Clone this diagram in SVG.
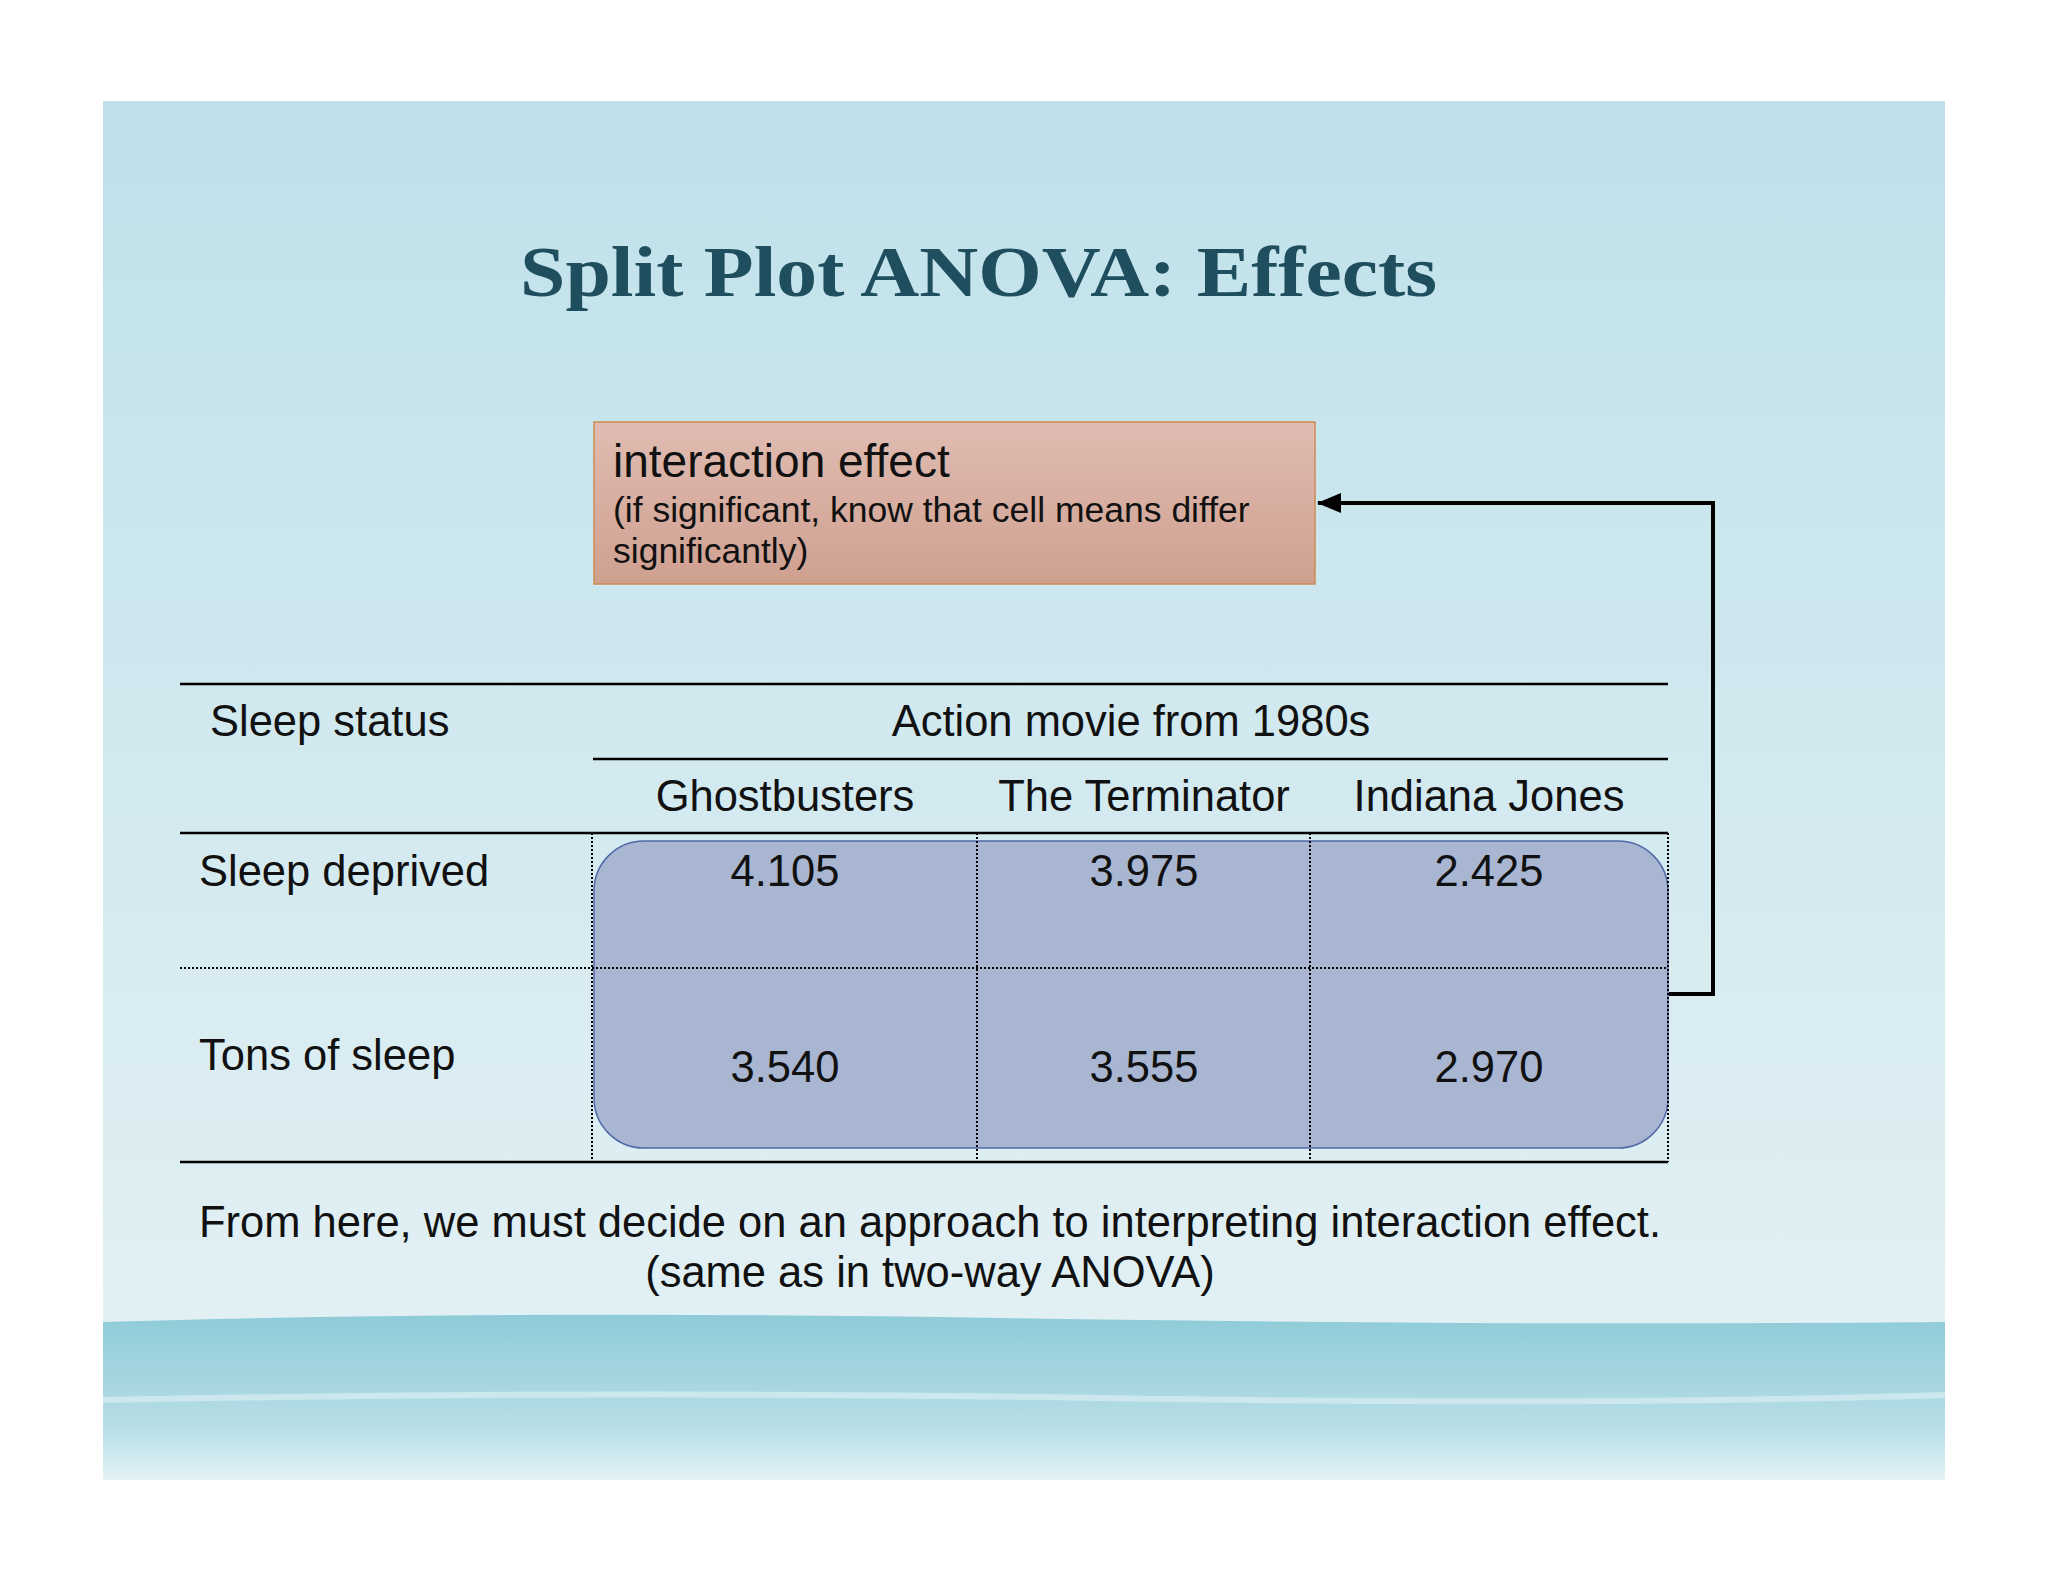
<svg xmlns="http://www.w3.org/2000/svg" width="2048" height="1582" viewBox="0 0 2048 1582">
<defs>
<linearGradient id="bg" x1="0" y1="0" x2="0" y2="1"><stop offset="0" stop-color="#bfe1ea"/><stop offset="1" stop-color="#e6f2f5"/></linearGradient>
<linearGradient id="water" x1="0" y1="0" x2="0" y2="1"><stop offset="0" stop-color="#8ecbd8"/><stop offset="0.4" stop-color="#a6d6e0"/><stop offset="0.7" stop-color="#b9dfe7"/><stop offset="1" stop-color="#e4f2f5"/></linearGradient>
<linearGradient id="box" x1="0" y1="0" x2="0" y2="1"><stop offset="0" stop-color="#e0bcb2"/><stop offset="1" stop-color="#cfa090"/></linearGradient>
<marker id="ah" markerWidth="24" markerHeight="24" refX="23" refY="12" orient="auto" markerUnits="userSpaceOnUse" viewBox="0 0 24 24"><path d="M0,2 L24,12 L0,22 z" fill="#000"/></marker>
<style>
.t{font-family:"Liberation Sans",Arial,sans-serif;fill:#111}
.s{stroke:#000;stroke-width:2.5}
.d{stroke:#000;stroke-width:2;stroke-dasharray:2,2}
</style>
</defs>
<rect width="2048" height="1582" fill="#fff"/>
<rect x="103" y="101" width="1842" height="1379" fill="url(#bg)"/>
<path d="M103,1322 Q500,1310 1000,1318 T1945,1322 L1945,1480 L103,1480 z" fill="url(#water)"/>
<path d="M103,1400 Q600,1390 1100,1398 T1945,1395" stroke="#cce8ee" stroke-width="6" fill="none"/>
<text x="520" y="296" textLength="917" lengthAdjust="spacingAndGlyphs" font-family="Liberation Serif,serif" font-weight="bold" font-size="72" fill="#1f4e5f">Split Plot ANOVA: Effects</text>
<g id="box-node">
<rect x="594" y="422" width="721" height="162" fill="url(#box)" stroke="#d08a50" stroke-width="1.5"/>
<text class="t" x="613" y="477" font-size="46">interaction effect</text>
<text class="t" x="613" y="522" font-size="35.5">(if significant, know that cell means differ</text>
<text class="t" x="613" y="563" font-size="35.5">significantly)</text>
</g>
<g id="cells">
<rect x="594" y="841" width="1074" height="307" rx="50" fill="#a8b6d2" stroke="#5068a8" stroke-width="1.5"/>
</g>
<g id="table">
<line class="s" x1="180" y1="684" x2="1668" y2="684"/>
<line class="s" x1="593" y1="759" x2="1668" y2="759"/>
<line class="s" x1="180" y1="833" x2="1668" y2="833"/>
<line class="s" x1="180" y1="1162" x2="1668" y2="1162"/>
<line class="d" x1="180" y1="968" x2="1668" y2="968"/>
<line class="d" x1="592" y1="833" x2="592" y2="1162"/>
<line class="d" x1="977" y1="833" x2="977" y2="1162"/>
<line class="d" x1="1310" y1="833" x2="1310" y2="1162"/>
<line class="d" x1="1668" y1="833" x2="1668" y2="1162"/>
<g class="t" font-size="43.5">
<text x="210" y="736">Sleep status</text>
<text x="1131" y="736" text-anchor="middle">Action movie from 1980s</text>
<text x="785" y="811" text-anchor="middle">Ghostbusters</text>
<text x="1144" y="811" text-anchor="middle">The Terminator</text>
<text x="1489" y="811" text-anchor="middle">Indiana Jones</text>
<text x="199" y="886">Sleep deprived</text>
<text x="199" y="1070">Tons of sleep</text>
<text x="785" y="886" text-anchor="middle">4.105</text>
<text x="1144" y="886" text-anchor="middle">3.975</text>
<text x="1489" y="886" text-anchor="middle">2.425</text>
<text x="785" y="1082" text-anchor="middle">3.540</text>
<text x="1144" y="1082" text-anchor="middle">3.555</text>
<text x="1489" y="1082" text-anchor="middle">2.970</text>
</g>
</g>
<g id="connectors">
<path d="M1669,994 L1713,994 L1713,503 L1318,503" fill="none" stroke="#000" stroke-width="4" marker-end="url(#ah)"/>
</g>
<text class="t" x="930" y="1237" text-anchor="middle" font-size="43.5">From here, we must decide on an approach to interpreting interaction effect.</text>
<text class="t" x="930" y="1287" text-anchor="middle" font-size="43.5">(same as in two-way ANOVA)</text>
</svg>
